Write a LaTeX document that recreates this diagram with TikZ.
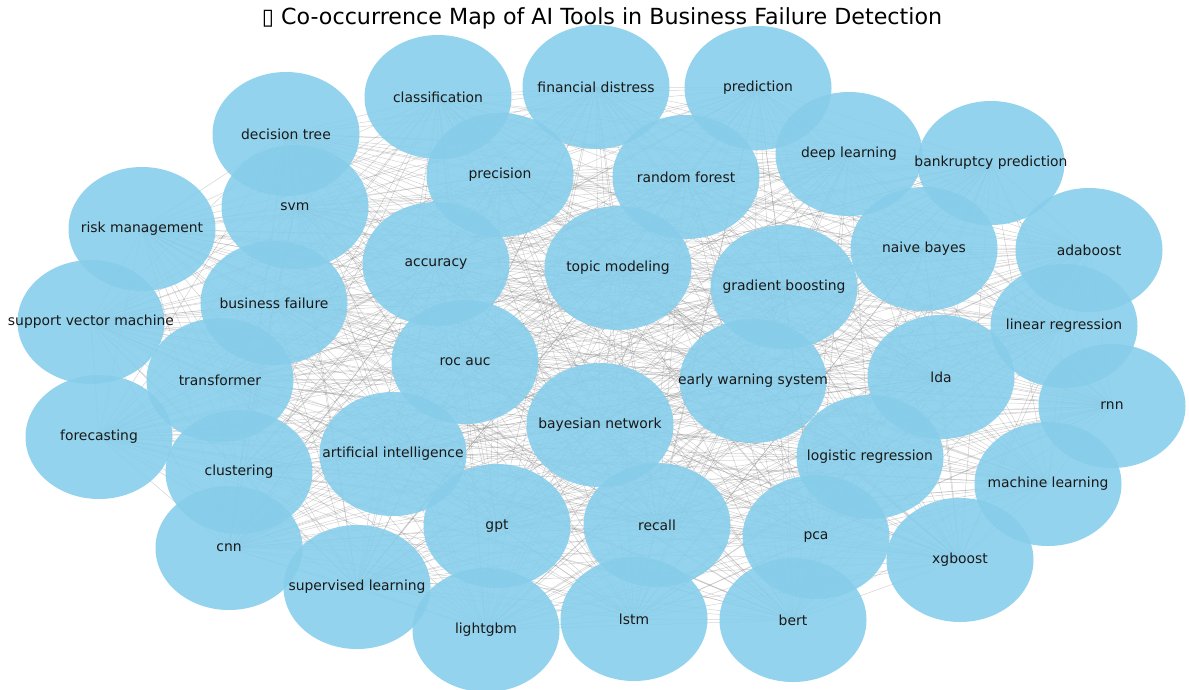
\documentclass[tikz,border=0pt]{standalone}
\usepackage{fontspec}
\setmainfont{DejaVu Sans}
\usepackage{tikz}
\usetikzlibrary{shapes.geometric, backgrounds}
\definecolor{nodeblue}{RGB}{135, 206, 235}
\definecolor{edgegray}{RGB}{128, 128, 128}

\tikzset{
	% the ellipse keeps its size, the word sits on top as a label
	term/.style={ellipse, fill=nodeblue, fill opacity=0.9,
		minimum width=147pt, minimum height=124pt, inner sep=0pt,
		label={[font=\fontsize{13.9}{16}\selectfont, text=black!90]center:#1}},
	link/.style={draw=edgegray, draw opacity=0.35, line width=0.5pt}
}

\begin{document}
\begin{tikzpicture}[x=1pt, y=-1pt]
	\useasboundingbox (0,0) rectangle (1189,689);

	% title
	\node[font=\fontsize{22.2}{26}\selectfont] (title) at (602,18) {▯ Co-occurrence Map of AI Tools in Business Failure Detection};

	% terms (pixel positions of the layout)
	\node[term=classification]         (classif)  at (438,97)   {};
	\node[term=financial distress]     (findist)  at (596,87)   {};
	\node[term=prediction]             (predict)  at (758,88)   {};
	\node[term=decision tree]          (dtree)    at (286,134)  {};
	\node[term=deep learning]          (deepl)    at (849,154)  {};
	\node[term=bankruptcy prediction]  (bankr)    at (991,163)  {};
	\node[term=precision]              (precis)   at (500,175)  {};
	\node[term=random forest]          (rforest)  at (686,177)  {};
	\node[term=svm]                    (svm)      at (295,207)  {};
	\node[term=risk management]        (riskm)    at (142,229)  {};
	\node[term=accuracy]               (accur)    at (436,264)  {};
	\node[term=topic modeling]         (topic)    at (618,268)  {};
	\node[term=naive bayes]            (nbayes)   at (924,249)  {};
	\node[term=adaboost]               (adab)     at (1089,250) {};
	\node[term=gradient boosting]      (gboost)   at (784,287)  {};
	\node[term=business failure]       (bfail)    at (274,303)  {};
	\node[term=support vector machine] (svmach)   at (91,322)   {};
	\node[term=linear regression]      (linreg)   at (1064,326) {};
	\node[term=roc auc]                (rocauc)   at (465,362)  {};
	\node[term=early warning system]   (ews)      at (753,381)  {};
	\node[term=lda]                    (lda)      at (941,377)  {};
	\node[term=transformer]            (transf)   at (220,380)  {};
	\node[term=rnn]                    (rnn)      at (1112,406) {};
	\node[term=forecasting]            (forecast) at (99,437)   {};
	\node[term=bayesian network]       (bayes)    at (600,425)  {};
	\node[term=artificial intelligence] (ai)      at (393,454)  {};
	\node[term=logistic regression]    (logreg)   at (870,457)  {};
	\node[term=clustering]             (clust)    at (239,472)  {};
	\node[term=machine learning]       (ml)       at (1048,484) {};
	\node[term=gpt]                    (gpt)      at (497,526)  {};
	\node[term=recall]                 (recall)   at (657,525)  {};
	\node[term=pca]                    (pca)      at (816,537)  {};
	\node[term=cnn]                    (cnn)      at (229,548)  {};
	\node[term=xgboost]                (xgb)      at (960,560)  {};
	\node[term=supervised learning]    (suplearn) at (357,587)  {};
	\node[term=lightgbm]               (lgbm)     at (486,630)  {};
	\node[term=lstm]                   (lstm)     at (634,619)  {};
	\node[term=bert]                   (bert)     at (793,620)  {};

	% co-occurrence links, every pair, behind the terms
	\begin{pgfonlayer}{background}
	\foreach \a [count=\i] in {classif,findist,predict,dtree,deepl,bankr,precis,rforest,svm,riskm,accur,topic,nbayes,adab,gboost,bfail,svmach,linreg,rocauc,ews,lda,transf,rnn,forecast,bayes,ai,logreg,clust,ml,gpt,recall,pca,cnn,xgb,suplearn,lgbm,lstm,bert}
		\foreach \b [count=\j] in {classif,findist,predict,dtree,deepl,bankr,precis,rforest,svm,riskm,accur,topic,nbayes,adab,gboost,bfail,svmach,linreg,rocauc,ews,lda,transf,rnn,forecast,bayes,ai,logreg,clust,ml,gpt,recall,pca,cnn,xgb,suplearn,lgbm,lstm,bert}
			{\ifnum\j>\i \draw[link] (\a.center) -- (\b.center); \fi}
	\end{pgfonlayer}

\end{tikzpicture}
\end{document}
